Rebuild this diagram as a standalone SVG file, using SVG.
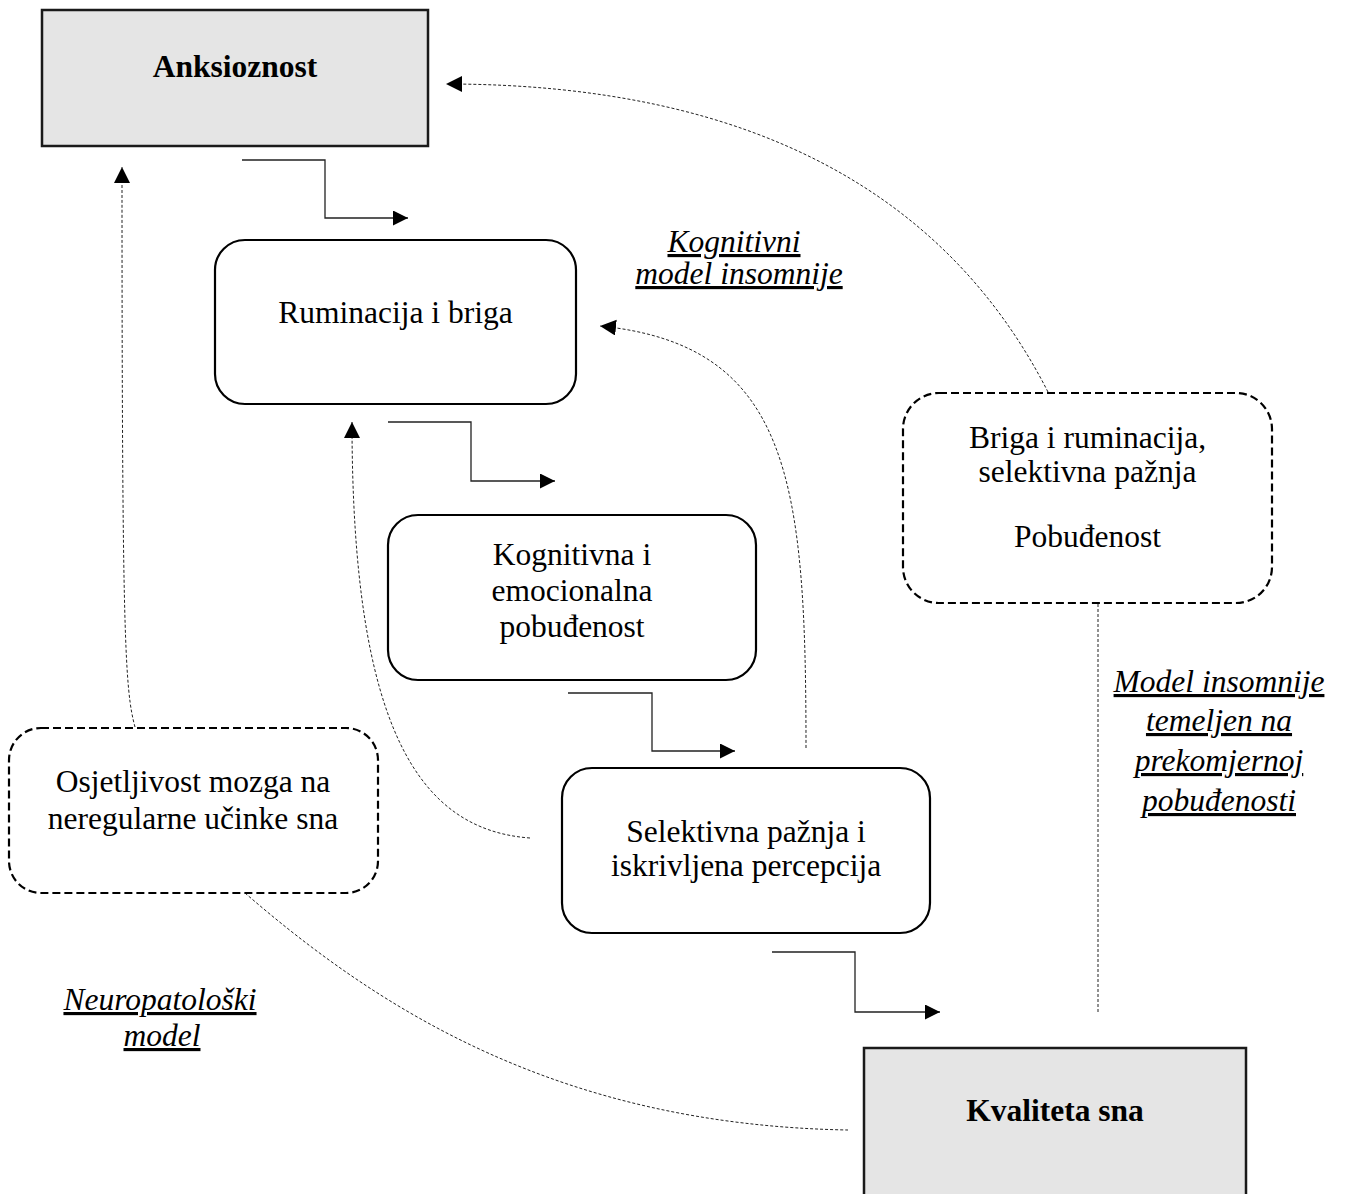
<svg xmlns="http://www.w3.org/2000/svg" width="1345" height="1194" viewBox="0 0 1345 1194">
  <style>
    .txt { font-family: "Liberation Serif", "Times New Roman", serif; font-size: 31.5px; fill: #000; text-anchor: middle; }
    .bold { font-weight: bold; }
    .lbl { font-style: italic; text-decoration: underline; }
    .rect { fill: #e5e5e5; stroke: #1a1a1a; stroke-width: 2.5; }
    .round { fill: #fff; stroke: #000; stroke-width: 2.2; }
    .dashbox { fill: #fff; stroke: #000; stroke-width: 2.2; stroke-dasharray: 8 4; }
    .flow { fill: none; stroke: #222; stroke-width: 1.3; }
    .dot { fill: none; stroke: #222; stroke-width: 1; stroke-dasharray: 3 2; }
  </style>
  <defs>
    <marker id="arrow" markerUnits="userSpaceOnUse" markerWidth="16" markerHeight="16" refX="15" refY="7.5" orient="auto">
      <path d="M0,0 L15,7.5 L0,15 z" fill="#000"/>
    </marker>
    <marker id="arrowDot" markerUnits="userSpaceOnUse" markerWidth="17" markerHeight="17" refX="16" refY="8" orient="auto">
      <path d="M0,0 L16,8 L0,16 z" fill="#000"/>
    </marker>
  </defs>

  <rect width="1345" height="1194" fill="#fff"/>

  <!-- connectors -->
  <g id="connectors">
    <!-- solid elbow arrows along the cognitive chain -->
    <path class="flow" d="M242,160 H325 V218 H408" marker-end="url(#arrow)"/>
    <path class="flow" d="M388,422 H471 V481 H555" marker-end="url(#arrow)"/>
    <path class="flow" d="M568,693 H652 V751 H735" marker-end="url(#arrow)"/>
    <path class="flow" d="M772,952 H855 V1012 H940" marker-end="url(#arrow)"/>

    <!-- dotted feedback curves -->
    <path class="dot" d="M135,727 C125,690 122,640 122,167" marker-end="url(#arrowDot)"/>
    <path class="dot" d="M530,838 C420,830 352,730 352,422" marker-end="url(#arrowDot)"/>
    <path class="dot" d="M806,748 C806,480 790,345 600,326" marker-end="url(#arrowDot)"/>
    <path class="dot" d="M1048,392 C950,200 760,84 446,84" marker-end="url(#arrowDot)"/>
    <path class="dot" d="M1098,604 V1012"/>
    <path class="dot" d="M245,893 C380,1010 560,1125 848,1130"/>
  </g>

  <!-- nodes -->
  <g id="anksioznost">
    <rect class="rect" x="42" y="10" width="386" height="136"/>
    <text class="txt bold" x="235" y="77">Anksioznost</text>
  </g>

  <g id="ruminacija">
    <rect class="round" x="215" y="240" width="361" height="164" rx="30" ry="30"/>
    <text class="txt" x="395.5" y="323">Ruminacija i briga</text>
  </g>

  <g id="pobudenost">
    <rect class="round" x="388" y="515" width="368" height="165" rx="30" ry="30"/>
    <text class="txt" x="572" y="565">Kognitivna i</text>
    <text class="txt" x="572" y="601">emocionalna</text>
    <text class="txt" x="572" y="637">pobuđenost</text>
  </g>

  <g id="selektivna">
    <rect class="round" x="562" y="768" width="368" height="165" rx="30" ry="30"/>
    <text class="txt" x="746" y="842">Selektivna pažnja i</text>
    <text class="txt" x="746" y="876">iskrivljena percepcija</text>
  </g>

  <g id="briga">
    <rect class="dashbox" x="903" y="393" width="369" height="210" rx="36" ry="36"/>
    <text class="txt" x="1087.5" y="448">Briga i ruminacija,</text>
    <text class="txt" x="1087.5" y="482">selektivna pažnja</text>
    <text class="txt" x="1087.5" y="547">Pobuđenost</text>
  </g>

  <g id="osjetljivost">
    <rect class="dashbox" x="9" y="728" width="369" height="165" rx="32" ry="32"/>
    <text class="txt" x="193" y="792">Osjetljivost mozga na</text>
    <text class="txt" x="193" y="829">neregularne učinke sna</text>
  </g>

  <g id="kvaliteta">
    <rect class="rect" x="864" y="1048" width="382" height="170"/>
    <text class="txt bold" x="1055" y="1121">Kvaliteta sna</text>
  </g>

  <!-- model labels -->
  <g id="label-kognitivni">
    <text class="txt lbl" x="734" y="252">Kognitivni</text>
    <text class="txt lbl" x="739" y="284">model insomnije</text>
  </g>

  <g id="label-pobudenost">
    <text class="txt lbl" x="1219" y="692">Model insomnije</text>
    <text class="txt lbl" x="1219" y="731">temeljen na</text>
    <text class="txt lbl" x="1219" y="771">prekomjernoj</text>
    <text class="txt lbl" x="1219" y="811">pobuđenosti</text>
  </g>

  <g id="label-neuro">
    <text class="txt lbl" x="160" y="1010">Neuropatološki</text>
    <text class="txt lbl" x="162" y="1046">model</text>
  </g>
</svg>
